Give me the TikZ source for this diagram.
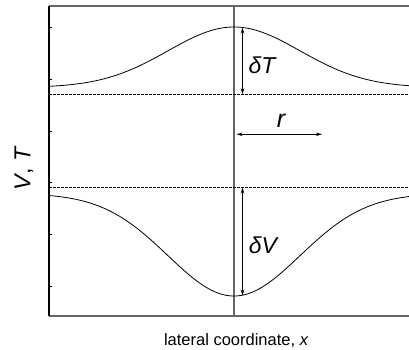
\documentclass[tikz,border=0pt]{standalone}
\usepackage{fontspec}
\setmainfont{Liberation Sans}
\usetikzlibrary{arrows.meta}
\begin{document}
\begin{tikzpicture}[x=1pt,y=-1pt,
  frame/.style={draw=black!60,line width=1.3pt},
  axisline/.style={draw=black,line width=1.3pt},
  curve/.style={draw=black,line width=0.8pt},
  refline/.style={draw=black,line width=0.7pt,dash pattern=on 2.5pt off 1.5pt},
  dim/.style={draw=black,line width=0.8pt,{Stealth[length=6pt,width=3.5pt]}-{Stealth[length=6pt,width=3.5pt]}},
  lbl/.style={font=\fontsize{23}{25}\selectfont\itshape,inner sep=0pt}]
\useasboundingbox (0,0) rectangle (409,350);
% frame
\coordinate (tl) at (49,6);
\coordinate (tr) at (409,6);
\coordinate (bl) at (49,316);
\coordinate (br) at (409,316);
\draw[frame] (tl) -- (tr);
\draw[frame] (bl) -- (br);
\draw[axisline] (tl) -- (bl);
\foreach \t in {27,79,131,182,234,286} \draw[black,line width=0.6pt] (49,\t) -- (52,\t);
% vertical line
\coordinate (vt) at (234,6);
\coordinate (vb) at (234,316);
\draw[frame] (vt) -- (vb);
% dashed reference lines
\coordinate (d1l) at (49,94.3);
\coordinate (d1r) at (409,94.3);
\coordinate (d2l) at (49,187.5);
\coordinate (d2r) at (409,187.5);
\draw[refline] (d1l) -- (d1r);
\draw[refline] (d2l) -- (d2r);
% curves
\draw[curve] plot[domain=49:409,samples=121,smooth] (\x,{87.5-60.5*exp(-((\x-234)/66)^2/2)});
\draw[curve] plot[domain=49:409,samples=121,smooth] (\x,{193.5+102.5*exp(-((\x-234)/66)^2/2)});
% dimension arrows
\coordinate (tp) at (242.5,27.5);
\coordinate (tb) at (242.5,94.3);
\coordinate (vp) at (242.5,187.5);
\coordinate (vm) at (242.5,295.5);
\coordinate (ra) at (236.5,134.3);
\coordinate (rb) at (322,134.3);
\draw[dim] (tp) -- (tb);
\draw[dim] (vp) -- (vm);
\draw[dim] (ra) -- (rb);
\node[lbl] (dT) at (262,65) {δT};
\node[lbl] (dV) at (263,245) {δV};
\node[lbl,font=\fontsize{25}{27}\selectfont\itshape] (r) at (281,121) {r};
\node[font=\fontsize{23}{25}\selectfont,rotate=90,inner sep=0pt] (vtlab) at (24,169) {\itshape V\upshape, \itshape T};
\node[font=\fontsize{16.5}{18}\selectfont,inner sep=0pt] (xlab) at (236,341) {lateral coordinate, \itshape x};
\end{tikzpicture}
\end{document}
